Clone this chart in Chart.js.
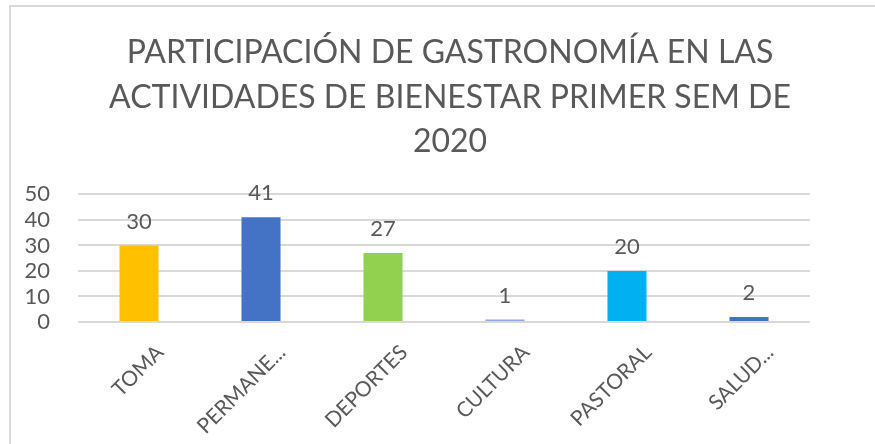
<!DOCTYPE html>
<html>
<head>
<meta charset="utf-8">
<script src="https://cdn.jsdelivr.net/npm/chart.js@4/dist/chart.umd.min.js"></script>
<style>
  html, body { margin: 0; padding: 0; background: #fff; }
  #wrap { position: relative; width: 875px; height: 444px; overflow: hidden; }
  #frame { position: absolute; left: 9px; top: 5px; width: 900px; height: 500px;
           border-top: 2px solid #d9d9d9; border-left: 2px solid #d9d9d9; }
  canvas { position: absolute; left: 0; top: 0; }
</style>
</head>
<body>
<div id="wrap">
  <div id="frame"></div>
  <canvas id="chart" width="890" height="444"></canvas>
</div>
<script>
const categories = ["TOMA", "PERMANE...", "DEPORTES", "CULTURA", "PASTORAL", "SALUD..."];
const values = [30, 41, 27, 1, 20, 2];
const barColors = ["#FFC000", "#4472C4", "#92D050", "#8FAADC", "#00B0F0", "#4472C4"];
const titleLines = ["PARTICIPACIÓN DE GASTRONOMÍA EN LAS", "ACTIVIDADES DE BIENESTAR PRIMER SEM DE", "2020"];

const textColor = "#595959";
const fontName = "Lato, 'Open Sans', sans-serif";

// value labels above each bar
const valueLabels = {
    id: "valueLabels",
    afterDatasetsDraw(chart) {
        const ctx = chart.ctx;
        const meta = chart.getDatasetMeta(0);
        ctx.save();
        ctx.font = "22px " + fontName;
        ctx.fillStyle = textColor;
        ctx.textAlign = "center";
        ctx.textBaseline = "middle";
        meta.data.forEach((bar, i) => {
            ctx.fillText(String(values[i]), bar.x, bar.y - 24);
        });
        ctx.restore();
    }
};

const chart = new Chart(document.getElementById("chart"), {
    type: "bar",
    data: {
        labels: categories,
        datasets: [{
            data: values,
            backgroundColor: barColors,
            barPercentage: 0.64,
            categoryPercentage: 0.5,
        }],
    },
    options: {
        responsive: false,
        animation: false,
        layout: { padding: { left: 10, right: 0, top: 30, bottom: 0 } },
        plugins: {
            legend: { display: false },
            tooltip: { enabled: false },
            title: {
                display: true,
                text: titleLines,
                color: textColor,
                font: { family: fontName, size: 32, weight: "normal", lineHeight: 1.4 },
                padding: { top: 0, bottom: 30 },
            },
        },
        scales: {
            x: {
                grid: { display: false },
                border: { display: false },
                ticks: {
                    color: textColor,
                    font: { family: fontName, size: 21 },
                    maxRotation: 45,
                    minRotation: 45,
                    autoSkip: false,
                    labelOffset: 21,
                    padding: 10,
                },
                afterFit(scale) { scale.height = 122; },
            },
            y: {
                min: 0,
                max: 50,
                ticks: {
                    stepSize: 10,
                    autoSkip: false,
                    color: textColor,
                    font: { family: fontName, size: 22 },
                    padding: 28,
                },
                grid: { color: "#d9d9d9", lineWidth: 2, drawTicks: false },
                border: { display: false },
                afterFit(scale) { scale.width = 68; },
            },
            // empty right-hand axis keeps the plot narrower than the title box
            yRight: {
                position: "right",
                grid: { display: false },
                border: { display: false },
                ticks: { display: false },
                afterFit(scale) { scale.width = 80; },
            },
        },
    },
    plugins: [valueLabels],
});
</script>
</body>
</html>
